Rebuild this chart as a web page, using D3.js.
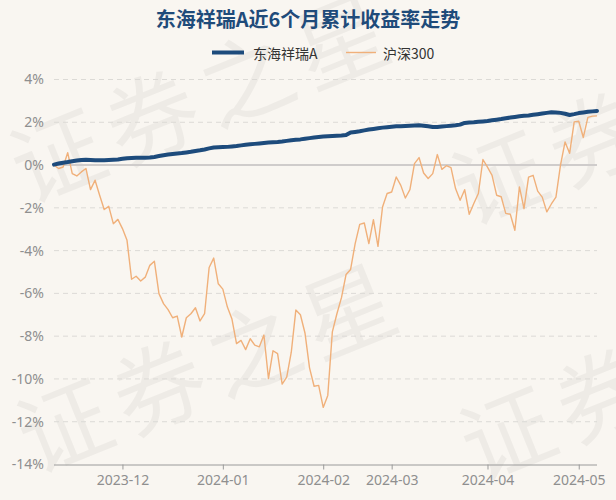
<!DOCTYPE html>
<html>
<head>
<meta charset="utf-8">
<script src="https://cdn.jsdelivr.net/npm/d3@7/dist/d3.min.js"></script>
<style>
  html, body { margin: 0; padding: 0; background: #f9f6f1; }
  svg { display: block; font-family: "Noto Sans CJK SC", "Noto Sans", sans-serif; }
</style>
</head>
<body>
<svg id="chart" width="616" height="500"></svg>
<script>
const title = "东海祥瑞A近6个月累计收益率走势";
const seriesNames = ["东海祥瑞A", "沪深300"];
const dates = [
"2023-11-10","2023-11-13","2023-11-14","2023-11-15","2023-11-16","2023-11-17","2023-11-20","2023-11-21","2023-11-22","2023-11-23","2023-11-24","2023-11-27","2023-11-28","2023-11-29","2023-11-30",
"2023-12-01","2023-12-04","2023-12-05","2023-12-06","2023-12-07","2023-12-08","2023-12-11","2023-12-12","2023-12-13","2023-12-14","2023-12-15","2023-12-18","2023-12-19","2023-12-20","2023-12-21","2023-12-22","2023-12-25","2023-12-26","2023-12-27","2023-12-28","2023-12-29","2023-12-31",
"2024-01-02","2024-01-03","2024-01-04","2024-01-05","2024-01-08","2024-01-09","2024-01-10","2024-01-11","2024-01-12","2024-01-15","2024-01-16","2024-01-17","2024-01-18","2024-01-19","2024-01-22","2024-01-23","2024-01-24","2024-01-25","2024-01-26","2024-01-29","2024-01-30","2024-01-31",
"2024-02-01","2024-02-02","2024-02-05","2024-02-06","2024-02-07","2024-02-08","2024-02-19","2024-02-20","2024-02-21","2024-02-22","2024-02-23","2024-02-26","2024-02-27","2024-02-28","2024-02-29",
"2024-03-01","2024-03-04","2024-03-05","2024-03-06","2024-03-07","2024-03-08","2024-03-11","2024-03-12","2024-03-13","2024-03-14","2024-03-15","2024-03-18","2024-03-19","2024-03-20","2024-03-21","2024-03-22","2024-03-25","2024-03-26","2024-03-27","2024-03-28","2024-03-29",
"2024-04-01","2024-04-02","2024-04-03","2024-04-08","2024-04-09","2024-04-10","2024-04-11","2024-04-12","2024-04-15","2024-04-16","2024-04-17","2024-04-18","2024-04-19","2024-04-22","2024-04-23","2024-04-24","2024-04-25","2024-04-26","2024-04-29","2024-04-30",
"2024-05-06","2024-05-07","2024-05-08","2024-05-09","2024-05-10"
];
// 东海祥瑞A cumulative return (%)
const fundValues = [
0.02,0.07,0.11,0.14,0.18,0.21,0.24,0.25,0.24,0.23,0.22,0.23,0.24,0.25,0.26,
0.29,0.32,0.33,0.34,0.34,0.34,0.35,0.38,0.42,0.46,0.49,0.52,0.54,0.56,0.59,0.62,0.66,0.69,0.73,0.78,0.82,0.83,
0.84,0.85,0.87,0.89,0.92,0.95,0.97,0.99,1.01,1.03,1.05,1.07,1.08,1.10,1.13,1.16,1.18,1.20,1.23,1.26,1.29,1.31,
1.33,1.35,1.36,1.37,1.38,1.40,1.52,1.55,1.58,1.62,1.66,1.69,1.72,1.75,1.77,
1.79,1.81,1.82,1.83,1.84,1.85,1.86,1.84,1.81,1.78,1.78,1.80,1.82,1.84,1.86,1.89,1.97,1.99,2.00,2.02,2.04,
2.06,2.09,2.12,2.15,2.19,2.22,2.25,2.28,2.30,2.32,2.35,2.38,2.41,2.44,2.47,2.46,2.44,2.40,2.34,2.38,
2.43,2.46,2.49,2.51,2.53
];
// 沪深300 cumulative return (%)
const indexValues = [
0.00,-0.16,-0.09,0.58,-0.40,-0.51,-0.32,-0.16,-1.15,-0.71,-1.41,-2.08,-1.93,-2.74,-2.54,
-2.97,-3.52,-5.34,-5.20,-5.42,-5.24,-4.69,-4.50,-6.01,-6.48,-6.76,-7.14,-7.06,-8.04,-7.14,-6.95,-6.67,-7.29,-6.95,-4.79,-4.35,-5.55,
-5.80,-6.64,-7.20,-8.35,-8.20,-8.63,-8.12,-8.42,-8.50,-7.95,-9.98,-8.68,-8.82,-10.24,-9.92,-8.75,-6.78,-7.00,-7.85,-9.48,-10.34,-10.30,
-11.33,-10.77,-7.80,-6.95,-6.20,-5.12,-4.88,-3.67,-2.77,-2.71,-3.67,-2.55,-3.80,-1.96,-1.33,
-1.26,-0.56,-0.95,-1.54,-1.15,0.07,0.35,-0.37,-0.63,-0.40,0.49,-0.20,-0.03,-0.12,-1.10,-1.65,-1.15,-2.30,-1.80,-1.33,0.26,
-0.10,-0.48,-1.41,-1.48,-2.26,-2.30,-3.05,-1.02,-2.04,-0.56,-0.48,-1.22,-1.50,-2.19,-1.82,-1.50,0.00,1.08,0.55,2.02,
2.05,1.29,2.23,2.29,2.30
];
const yTicks = [4, 2, 0, -2, -4, -6, -8, -10, -12, -14];
const xTickDates = ["2023-12-01","2024-01-02","2024-02-01","2024-03-01","2024-04-01","2024-05-06"];
const xTickLabels = ["2023-12","2024-01","2024-02","2024-03","2024-04","2024-05"];
const watermarkChars = ["证", "券", "之", "星"];

const svg = d3.select("#chart");
const W = 616, H = 500;
const mLeft = 54, mRight = 597, mTop = 79.5, mBottom = 464.5;

svg.append("rect").attr("width", W).attr("height", H).attr("fill", "#f9f6f1");

// watermark: repeated, rotated, one glyph per text element
const wm = svg.append("g").attr("fill", "#000").attr("fill-opacity", 0.045)
  .style("font-size", "92px").style("font-family", "'Noto Sans CJK SC', sans-serif");
const ang = -22 * Math.PI / 180, step = 102;
[[55,150,4],[62,420,4],[497,172,2],[505,428,2]].forEach(([cx, cy, n]) => {
  watermarkChars.slice(0, n).forEach((ch, k) => {
    const px = cx + k * step * Math.cos(ang), py = cy + k * step * Math.sin(ang);
    wm.append("text").attr("transform", `translate(${px},${py}) rotate(-22)`)
      .attr("text-anchor", "middle").attr("dominant-baseline", "central").text(ch);
  });
});

const x = d3.scalePoint().domain(dates).range([mLeft, mRight]);
const y = d3.scaleLinear().domain([-14, 4]).range([mBottom, mTop]);

// grid
const grid = svg.append("g");
yTicks.forEach(t => {
  if (t === -14) return;
  grid.append("line")
    .attr("x1", mLeft).attr("x2", mRight)
    .attr("y1", y(t)).attr("y2", y(t))
    .attr("stroke", t === 0 ? "#cfcccb" : "#dcdad6")
    .attr("stroke-width", t === 0 ? 2 : 1)
    .attr("stroke-dasharray", t === 0 ? null : "5,4");
});

// y axis labels
const yAxis = d3.axisLeft(y).tickValues(yTicks).tickSize(0).tickPadding(10).tickFormat(d => d + "%");
const yg = svg.append("g").attr("transform", `translate(${mLeft},0)`).call(yAxis);
yg.select(".domain").remove();
yg.selectAll("text").attr("fill", "#8f8f8f").style("font-size", "14px").style("font-family", "'Noto Sans', 'Noto Sans CJK SC', sans-serif");

// x axis
const xAxis = d3.axisBottom(x).tickValues(xTickDates).tickSize(5).tickPadding(6)
  .tickFormat(d => xTickLabels[xTickDates.indexOf(d)]);
const xg = svg.append("g").attr("transform", `translate(0,${mBottom})`).call(xAxis);
xg.select(".domain").attr("stroke", "#9a9a9a").attr("d", `M${mLeft},0.5H${mRight}`);
xg.selectAll(".tick line").attr("stroke", "#9a9a9a");
xg.selectAll("text").attr("fill", "#8f8f8f").style("font-size", "14px").style("font-family", "'Noto Sans', 'Noto Sans CJK SC', sans-serif");

// lines
const lineGen = vals => d3.line().x((d, i) => x(dates[i])).y(d => y(d))(vals);
svg.append("path").attr("d", lineGen(indexValues)).attr("fill", "none")
  .attr("stroke", "#f0b07a").attr("stroke-width", 1.4).attr("stroke-linejoin", "round");
svg.append("path").attr("d", lineGen(fundValues)).attr("fill", "none")
  .attr("stroke", "#1d4b7c").attr("stroke-width", 4).attr("stroke-linejoin", "round").attr("stroke-linecap", "round");

// title
svg.append("text").attr("x", 308).attr("y", 27).attr("text-anchor", "middle")
  .attr("fill", "#1f4b7a").style("font-size", "20px").style("font-weight", "bold")
  .text(title);

// legend
const lg = svg.append("g").style("font-size", "14px");
lg.append("line").attr("x1", 212).attr("x2", 244).attr("y1", 52.5).attr("y2", 52.5)
  .attr("stroke", "#1d4b7c").attr("stroke-width", 4);
lg.append("text").attr("x", 253).attr("y", 52.5).attr("dominant-baseline", "central")
  .attr("fill", "#333").text(seriesNames[0]);
lg.append("line").attr("x1", 346).attr("x2", 376).attr("y1", 52.5).attr("y2", 52.5)
  .attr("stroke", "#f0b07a").attr("stroke-width", 1.4);
lg.append("text").attr("x", 383).attr("y", 52.5).attr("dominant-baseline", "central")
  .attr("fill", "#333").text(seriesNames[1]);
</script>
</body>
</html>
